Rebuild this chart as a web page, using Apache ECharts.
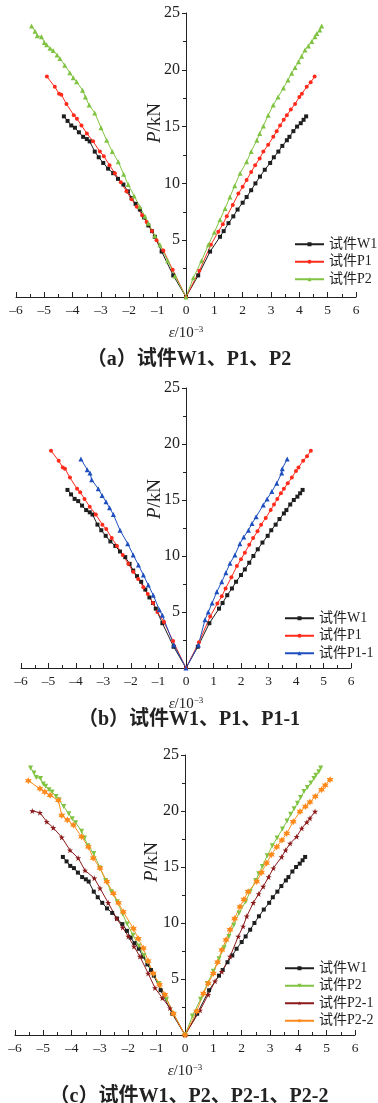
<!DOCTYPE html>
<html>
<head>
<meta charset="utf-8">
<script src="https://cdn.jsdelivr.net/npm/echarts@6/dist/echarts.min.js"></script>
<style>
  html, body { margin: 0; padding: 0; background: #fff; }
  .pane { position: absolute; left: 0; width: 378px; }
</style>
</head>
<body>
<div id="ca" class="pane" style="top:0;height:368px"></div>
<div id="cb" class="pane" style="top:368px;height:365px"></div>
<div id="cc" class="pane" style="top:733px;height:370px"></div>
<script>
// strain (10^-3), load (kN)
var w1 = [[-4.31,15.9],[-4.18,15.5],[-4.05,15.1],[-3.92,14.9],[-3.78,14.5],[-3.63,14.1],[-3.5,13.9],[-3.4,13.7],[-3.22,12.8],[-3.08,12.3],[-2.92,11.8],[-2.75,11.3],[-2.57,10.9],[-2.4,10.4],[-2.21,9.9],[-2.05,9.3],[-1.92,8.7],[-1.78,8.2],[-1.63,7.7],[-1.48,7.0],[-1.33,6.3],[-1.2,5.8],[-1.1,5.3],[-0.86,4.0],[-0.45,1.9],[0,0],
  [0.43,1.9],[0.85,4.0],[1.2,5.3],[1.33,5.8],[1.5,6.5],[1.67,7.1],[1.82,7.7],[2.0,8.3],[2.14,8.8],[2.3,9.4],[2.45,10.0],[2.61,10.6],[2.78,11.2],[2.97,11.8],[3.1,12.3],[3.26,12.8],[3.4,13.3],[3.56,13.8],[3.65,14.1],[3.79,14.6],[3.92,15.0],[4.05,15.3],[4.15,15.6],[4.24,15.9]];
var p1 = [[-4.91,19.4],[-4.63,18.5],[-4.48,17.9],[-4.4,17.8],[-4.22,17.0],[-3.96,16.0],[-3.85,15.7],[-3.69,15.1],[-3.5,14.4],[-3.28,13.7],[-3.04,12.8],[-2.9,12.4],[-2.7,11.6],[-2.51,10.9],[-2.3,10.1],[-2.1,9.3],[-1.92,8.6],[-1.74,7.95],[-1.55,7.2],[-1.39,6.6],[-1.2,5.8],[-1.04,5.0],[-0.8,4.1],[-0.47,2.4],[0,0],
  [0.47,2.3],[0.88,4.6],[1.14,5.75],[1.3,6.4],[1.44,7.1],[1.65,8.1],[1.85,9.1],[2.0,9.7],[2.14,10.3],[2.3,11.0],[2.44,11.6],[2.6,12.2],[2.73,12.8],[2.9,13.4],[3.08,14.1],[3.2,14.6],[3.32,15.1],[3.45,15.6],[3.56,16.0],[3.7,16.5],[3.85,17.0],[4.0,17.6],[4.09,17.9],[4.26,18.5],[4.4,18.9],[4.54,19.4]];
var p2 = [[-5.45,23.85],[-5.33,23.4],[-5.25,23.0],[-5.1,22.9],[-5.0,22.4],[-4.92,22.2],[-4.8,21.9],[-4.69,21.7],[-4.55,21.3],[-4.45,21.0],[-4.28,20.4],[-4.1,19.75],[-3.98,19.3],[-3.86,18.95],[-3.65,18.2],[-3.55,17.6],[-3.42,16.9],[-3.22,16.2],[-3.0,14.9],[-2.8,13.8],[-2.6,12.8],[-2.39,11.9],[-2.2,10.8],[-2.04,9.9],[-1.83,8.9],[-1.63,7.95],[-1.45,7.1],[-1.33,6.5],[-1.1,5.4],[-0.92,4.6],[-0.65,3.2],[-0.39,1.85],[0,0],
  [0.26,1.7],[0.55,3.2],[0.79,4.6],[1.0,5.7],[1.2,6.8],[1.38,7.8],[1.55,8.8],[1.72,9.8],[1.91,10.9],[2.14,11.9],[2.3,12.8],[2.5,13.8],[2.6,14.4],[2.73,15.05],[2.9,16.0],[3.08,16.9],[3.25,17.6],[3.44,18.4],[3.6,19.1],[3.73,19.7],[3.85,20.2],[3.97,20.7],[4.08,21.2],[4.2,21.75],[4.32,22.1],[4.44,22.5],[4.55,22.9],[4.62,23.2],[4.72,23.5],[4.79,23.85]];
var p1_1 = [[-3.82,18.66],[-3.59,17.7],[-3.49,17.4],[-3.43,16.8],[-3.19,16.0],[-3.05,15.4],[-2.91,14.85],[-2.78,14.3],[-2.64,13.7],[-2.4,12.3],[-2.12,11.1],[-1.92,10.1],[-1.73,9.2],[-1.55,8.3],[-1.37,7.4],[-1.19,6.5],[-0.97,5.2],[-0.86,4.7],[-0.44,2.05],[0,0],
  [0.45,2.05],[0.69,4.3],[0.81,5.0],[0.95,5.8],[1.12,6.8],[1.3,7.7],[1.45,8.5],[1.6,9.35],[1.78,10.1],[1.96,11.1],[2.1,11.7],[2.27,12.3],[2.4,12.9],[2.55,13.5],[2.81,14.55],[2.95,15.1],[3.12,15.75],[3.3,16.5],[3.48,17.4],[3.5,17.8],[3.68,18.66]];
var p2_1 = [[-5.39,20.0],[-5.12,19.85],[-4.88,19.05],[-4.65,18.5],[-4.35,17.65],[-4.06,16.5],[-3.77,15.8],[-3.53,14.7],[-3.2,14.0],[-3.0,13.1],[-2.71,11.8],[-2.41,10.4],[-2.2,9.6],[-2.0,8.8],[-1.8,7.9],[-1.59,7.0],[-1.3,5.5],[-1.06,4.2],[-0.8,3.3],[-0.53,2.4],[0,0],
  [0.53,2.2],[0.82,3.6],[1.06,4.8],[1.3,5.65],[1.59,7.0],[1.88,8.8],[2.05,9.7],[2.18,10.6],[2.41,11.8],[2.6,12.6],[2.76,13.25],[2.95,14.1],[3.12,14.9],[3.41,15.9],[3.55,16.5],[3.71,17.1],[3.94,17.7],[4.12,18.45],[4.3,19.0],[4.41,19.35],[4.59,19.95]];
var p2_2 = [[-5.53,22.7],[-5.12,22.0],[-4.95,21.7],[-4.76,21.4],[-4.47,20.95],[-4.35,19.6],[-4.15,19.2],[-3.94,18.75],[-3.65,17.7],[-3.41,16.8],[-3.24,15.8],[-3.0,14.9],[-2.76,13.7],[-2.53,12.65],[-2.35,11.8],[-2.18,11.0],[-1.82,9.5],[-1.65,8.6],[-1.47,7.75],[-1.3,6.6],[-1.12,5.5],[-0.9,4.5],[-0.71,3.6],[-0.41,1.9],[0,0],
  [0.41,2.1],[0.65,3.7],[0.82,4.6],[1.0,5.5],[1.15,6.5],[1.3,7.6],[1.45,8.5],[1.59,9.4],[1.75,10.4],[1.94,11.45],[2.08,12.1],[2.23,12.8],[2.53,13.7],[2.7,14.5],[2.88,15.35],[3.05,16.1],[3.24,16.8],[3.42,17.4],[3.59,18.0],[3.82,19.05],[4.06,19.95],[4.25,20.4],[4.41,20.8],[4.6,21.3],[4.82,21.9],[4.95,22.3],[5.12,22.8]];

var xTicks = [-6, -5, -4, -3, -2, -1, 0, 1, 2, 3, 4, 5, 6];
var yTicks = [5, 10, 15, 20, 25];

var SERIF = '"Liberation Serif", "Noto Sans CJK SC", serif';

var triDown = 'path://M0,0L10,0L5,9Z';
var star = 'path://M5,0L6.2,3.6L10,3.6L7,5.9L8.1,9.5L5,7.3L1.9,9.5L3,5.9L0,3.6L3.8,3.6Z';
var spiky = 'path://M5,0L6.3,2.7L9.3,2.5L7.6,5L9.3,7.5L6.3,7.3L5,10L3.7,7.3L0.7,7.5L2.4,5L0.7,2.5L3.7,2.7Z';

function ser(name, data, color, symbol, size) {
  return {
    type: 'line', name: name, data: data,
    symbol: symbol, symbolSize: size, showSymbol: true,
    color: color,
    lineStyle: { width: 1, color: color },
    itemStyle: { color: color },
    emphasis: { disabled: true },
    animation: false
  };
}

function makeChart(id, g, series, legend, caption, captionTop, pLabel) {
  var chart = echarts.init(document.getElementById(id));
  var plotW = 378 - g.left - g.right;
  chart.setOption({
    animation: false,
    title: {
      text: caption, left: 'center', top: captionTop,
      textStyle: { fontFamily: SERIF, fontSize: 20, fontWeight: 'bold', color: '#222' }
    },
    grid: { left: g.left, right: g.right, top: g.top, height: g.height, containLabel: false },
    legend: {
      orient: 'vertical', left: legend.left, top: legend.top, padding: 0,
      itemWidth: 29, itemHeight: 5, itemGap: 3,
      textStyle: { fontFamily: SERIF, fontSize: 14, color: '#222', lineHeight: 14.5 },
      data: series.map(function (s) { return s.name; })
    },
    xAxis: {
      type: 'value', min: xTicks[0], max: xTicks[xTicks.length - 1], interval: 1,
      splitLine: { show: false },
      axisLine: { onZero: false, lineStyle: { color: '#222', width: 1 } },
      axisTick: { inside: true, length: 5, lineStyle: { color: '#222' } },
      minorTick: { show: true, splitNumber: 2, length: 3, lineStyle: { color: '#222' } },
      axisLabel: {
        fontFamily: SERIF, fontSize: 13.5, color: '#222', margin: 7,
        formatter: function (v) { return String(v).replace('-', '\u2013'); }
      },
      name: '{e|\u03b5}{n|/10}{s|\u22123}',
      nameLocation: 'middle', nameGap: 28,
      nameTextStyle: {
        rich: {
          e: { fontFamily: SERIF, fontStyle: 'italic', fontSize: 15, color: '#222' },
          n: { fontFamily: SERIF, fontSize: 15, color: '#222' },
          s: { fontFamily: SERIF, fontSize: 9, color: '#222', padding: [0, 0, 8, 0] }
        }
      }
    },
    yAxis: {
      type: 'value', min: 0, max: yTicks[yTicks.length - 1], interval: 5,
      position: 'left', offset: -plotW / 2,
      splitLine: { show: false },
      axisLine: { onZero: false, lineStyle: { color: '#222', width: 1 } },
      axisTick: { inside: false, length: 4, lineStyle: { color: '#222' } },
      minorTick: { show: true, splitNumber: 2, length: 3, lineStyle: { color: '#222' } },
      axisLabel: {
        fontFamily: SERIF, fontSize: 16, color: '#222', margin: 6,
        formatter: function (v) { return yTicks.indexOf(v) >= 0 ? String(v) : ''; }
      }
    },
    graphic: [{
      type: 'text', x: pLabel.x, y: pLabel.y, rotation: Math.PI / 2,
      style: {
        text: '{p|P}{k|/kN}', align: 'center', verticalAlign: 'middle',
        rich: {
          p: { fontFamily: SERIF, fontStyle: 'italic', fontSize: 19, fill: '#222' },
          k: { fontFamily: SERIF, fontSize: 19, fill: '#222' }
        }
      }
    }],
    series: series
  });
}

makeChart('ca', { left: 16, right: 22, top: 13, height: 284 }, [
  ser('试件W1', w1, '#1e1e1e', 'rect', 4),
  ser('试件P1', p1, '#ff2a1a', 'circle', 4),
  ser('试件P2', p2, '#80c342', 'triangle', 5)
], { left: 294, top: 237 }, '（a）试件W1、P1、P2', 345, { x: 155, y: 123 });

makeChart('cb', { left: 21, right: 27, top: 20, height: 280 }, [
  ser('试件W1', w1, '#1e1e1e', 'rect', 4),
  ser('试件P1', p1, '#ff2a1a', 'circle', 4),
  ser('试件P1-1', p1_1, '#1f4fbf', 'triangle', 5)
], { left: 284, top: 243 }, '（b）试件W1、P1、P1-1', 337, { x: 155, y: 131 });

makeChart('cc', { left: 15, right: 23, top: 22, height: 280 }, [
  ser('试件W1', w1, '#1e1e1e', 'rect', 4),
  ser('试件P2', p2, '#80c342', triDown, 5),
  ser('试件P2-1', p2_1, '#8b1a1a', star, 6),
  ser('试件P2-2', p2_2, '#ff8a1c', spiky, 7)
], { left: 284, top: 228 }, '（c）试件W1、P2、P2-1、P2-2', 349, { x: 152, y: 129 });
</script>
</body>
</html>
